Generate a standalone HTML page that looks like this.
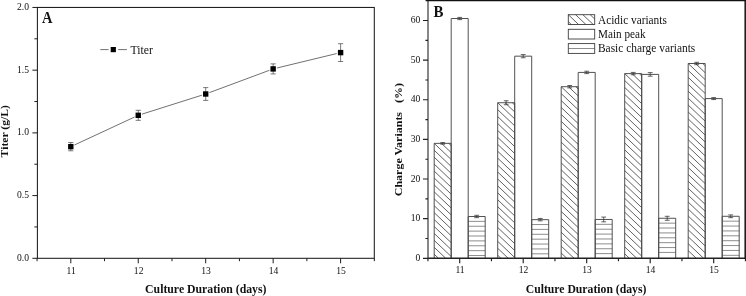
<!DOCTYPE html>
<html><head><meta charset="utf-8"><title>Figure</title>
<style>html,body{margin:0;padding:0;background:#fff;}body{width:746px;height:296px;overflow:hidden;}svg{display:block;}text{font-family:"Liberation Serif","Times New Roman",serif;fill:#111;}</style>
</head><body>
<svg width="746" height="296" viewBox="0 0 746 296">
<rect width="746" height="296" fill="#fff"/>
<g id="panelA">
<rect x="37.4" y="7.45" width="336.9" height="250.85" fill="none" stroke="#1c1c1c" stroke-width="1.05"/>
<path d="M32.4 258.3H37.4M34.4 226.94H37.4M32.4 195.59H37.4M34.4 164.23H37.4M32.4 132.88H37.4M34.4 101.52H37.4M32.4 70.16H37.4M34.4 38.81H37.4M32.4 7.45H37.4M37.07 258.3V261.2M70.8 258.3V263.3M104.53 258.3V261.2M138.25 258.3V263.3M171.98 258.3V261.2M205.7 258.3V263.3M239.43 258.3V261.2M273.15 258.3V263.3M306.88 258.3V261.2M340.6 258.3V263.3M374.33 258.3V261.2" stroke="#1c1c1c" stroke-width="1" fill="none"/>
<text x="29" y="260.9" font-size="9.6" text-anchor="end">0.0</text>
<text x="29" y="198.19" font-size="9.6" text-anchor="end">0.5</text>
<text x="29" y="135.47" font-size="9.6" text-anchor="end">1.0</text>
<text x="29" y="72.76" font-size="9.6" text-anchor="end">1.5</text>
<text x="29" y="10.05" font-size="9.6" text-anchor="end">2.0</text>
<text x="71.2" y="273.6" font-size="9.6" text-anchor="middle">11</text>
<text x="138.65" y="273.6" font-size="9.6" text-anchor="middle">12</text>
<text x="206.1" y="273.6" font-size="9.6" text-anchor="middle">13</text>
<text x="273.55" y="273.6" font-size="9.6" text-anchor="middle">14</text>
<text x="341" y="273.6" font-size="9.6" text-anchor="middle">15</text>
<path d="M74.43 144.99L134.62 117M142.06 114.11L201.89 95.2M209.45 92.6L269.4 70.3M277.04 67.97L336.71 53.54" stroke="#333" stroke-width="0.7" fill="none"/>
<path d="M70.8 142.53V150.81M68.2 142.53h5.2M68.2 150.81h5.2M138.25 110.3V120.33M135.65 110.3h5.2M135.65 120.33h5.2M205.7 87.6V100.39M203.1 87.6h5.2M203.1 100.39h5.2M273.15 63.89V73.93M270.55 63.89h5.2M270.55 73.93h5.2M340.6 43.7V61.51M338 43.7h5.2M338 61.51h5.2" stroke="#444" stroke-width="0.7" fill="none"/>
<rect x="68.1" y="143.97" width="5.4" height="5.4" fill="#000"/>
<rect x="135.55" y="112.62" width="5.4" height="5.4" fill="#000"/>
<rect x="203" y="91.29" width="5.4" height="5.4" fill="#000"/>
<rect x="270.45" y="66.21" width="5.4" height="5.4" fill="#000"/>
<rect x="337.9" y="49.9" width="5.4" height="5.4" fill="#000"/>
<path d="M100.3 49.6H108.6M118.2 49.6H126.9" stroke="#333" stroke-width="0.7"/>
<rect x="110.7" y="47" width="5.2" height="5.2" fill="#000"/>
<text x="130.6" y="53.9" font-size="13.2" textLength="22.4" lengthAdjust="spacingAndGlyphs">Titer</text>
<text transform="translate(41.9 22.7) scale(0.89 1)" font-size="16.3" font-weight="bold" fill="#000">A</text>
<text transform="translate(8.1 157.4) rotate(-90) scale(1 0.94)" font-size="11.55" font-weight="bold" textLength="52.3" lengthAdjust="spacingAndGlyphs" fill="#000">Titer (g/L)</text>
<text x="145.1" y="293.2" font-size="12.6" font-weight="bold" textLength="121.4" lengthAdjust="spacingAndGlyphs" fill="#000">Culture Duration (days)</text>
</g>
<defs>
</defs>
<g id="panelB">
<path d="M448.79 143.36L451.2 145.65M441.49 143.36L451.2 152.58M434.2 143.36L451.2 159.51M434.2 150.29L451.2 166.44M434.2 157.22L451.2 173.37M434.2 164.15L451.2 180.3M434.2 171.08L451.2 187.23M434.2 178.01L451.2 194.16M434.2 184.94L451.2 201.09M434.2 191.87L451.2 208.02M434.2 198.8L451.2 214.95M434.2 205.73L451.2 221.88M434.2 212.66L451.2 228.81M434.2 219.59L451.2 235.74M434.2 226.52L451.2 242.67M434.2 233.45L451.2 249.6M434.2 240.38L451.2 256.53M434.2 247.31L445.76 258.3M434.2 254.24L438.47 258.3M512.29 102.74L514.7 105.03M504.99 102.74L514.7 111.96M497.7 102.74L514.7 118.89M497.7 109.67L514.7 125.82M497.7 116.6L514.7 132.75M497.7 123.53L514.7 139.68M497.7 130.46L514.7 146.61M497.7 137.39L514.7 153.54M497.7 144.32L514.7 160.47M497.7 151.25L514.7 167.4M497.7 158.18L514.7 174.33M497.7 165.11L514.7 181.26M497.7 172.04L514.7 188.19M497.7 178.97L514.7 195.12M497.7 185.9L514.7 202.05M497.7 192.83L514.7 208.98M497.7 199.76L514.7 215.91M497.7 206.69L514.7 222.84M497.7 213.62L514.7 229.77M497.7 220.55L514.7 236.7M497.7 227.48L514.7 243.63M497.7 234.41L514.7 250.56M497.7 241.34L514.7 257.49M497.7 248.27L508.26 258.3M497.7 255.2L500.96 258.3M575.79 86.69L578.2 88.98M568.49 86.69L578.2 95.91M561.2 86.69L578.2 102.84M561.2 93.62L578.2 109.77M561.2 100.55L578.2 116.7M561.2 107.48L578.2 123.63M561.2 114.41L578.2 130.56M561.2 121.34L578.2 137.49M561.2 128.27L578.2 144.42M561.2 135.2L578.2 151.35M561.2 142.13L578.2 158.28M561.2 149.06L578.2 165.21M561.2 155.99L578.2 172.14M561.2 162.92L578.2 179.07M561.2 169.85L578.2 186M561.2 176.78L578.2 192.93M561.2 183.71L578.2 199.86M561.2 190.64L578.2 206.79M561.2 197.57L578.2 213.72M561.2 204.5L578.2 220.65M561.2 211.43L578.2 227.58M561.2 218.36L578.2 234.51M561.2 225.29L578.2 241.44M561.2 232.22L578.2 248.37M561.2 239.15L578.2 255.3M561.2 246.08L574.07 258.3M561.2 253.01L566.77 258.3M639.29 73.61L641.7 75.9M631.99 73.61L641.7 82.83M624.7 73.61L641.7 89.76M624.7 80.54L641.7 96.69M624.7 87.47L641.7 103.62M624.7 94.4L641.7 110.55M624.7 101.33L641.7 117.48M624.7 108.26L641.7 124.41M624.7 115.19L641.7 131.34M624.7 122.12L641.7 138.27M624.7 129.05L641.7 145.2M624.7 135.98L641.7 152.13M624.7 142.91L641.7 159.06M624.7 149.84L641.7 165.99M624.7 156.77L641.7 172.92M624.7 163.7L641.7 179.85M624.7 170.63L641.7 186.78M624.7 177.56L641.7 193.71M624.7 184.49L641.7 200.64M624.7 191.42L641.7 207.57M624.7 198.35L641.7 214.5M624.7 205.28L641.7 221.43M624.7 212.21L641.7 228.36M624.7 219.14L641.7 235.29M624.7 226.07L641.7 242.22M624.7 233L641.7 249.15M624.7 239.93L641.7 256.08M624.7 246.86L636.74 258.3M624.7 253.79L629.45 258.3M702.79 63.5L705.2 65.79M695.49 63.5L705.2 72.72M688.2 63.5L705.2 79.65M688.2 70.43L705.2 86.58M688.2 77.36L705.2 93.51M688.2 84.29L705.2 100.44M688.2 91.22L705.2 107.37M688.2 98.15L705.2 114.3M688.2 105.08L705.2 121.23M688.2 112.01L705.2 128.16M688.2 118.94L705.2 135.09M688.2 125.87L705.2 142.02M688.2 132.8L705.2 148.95M688.2 139.73L705.2 155.88M688.2 146.66L705.2 162.81M688.2 153.59L705.2 169.74M688.2 160.52L705.2 176.67M688.2 167.45L705.2 183.6M688.2 174.38L705.2 190.53M688.2 181.31L705.2 197.46M688.2 188.24L705.2 204.39M688.2 195.17L705.2 211.32M688.2 202.1L705.2 218.25M688.2 209.03L705.2 225.18M688.2 215.96L705.2 232.11M688.2 222.89L705.2 239.04M688.2 229.82L705.2 245.97M688.2 236.75L705.2 252.9M688.2 243.68L703.59 258.3M688.2 250.61L696.29 258.3M688.2 257.54L689 258.3" stroke="#2e2e2e" stroke-width="0.75" fill="none"/>
<path d="M468.2 221.37H485.2M468.2 226.25H485.2M468.2 231.13H485.2M468.2 236.01H485.2M468.2 240.89H485.2M468.2 245.77H485.2M468.2 250.65H485.2M468.2 255.53H485.2M531.7 224.54H548.7M531.7 229.42H548.7M531.7 234.3H548.7M531.7 239.18H548.7M531.7 244.06H548.7M531.7 248.94H548.7M531.7 253.82H548.7M595.2 224.34H612.2M595.2 229.22H612.2M595.2 234.1H612.2M595.2 238.98H612.2M595.2 243.86H612.2M595.2 248.74H612.2M595.2 253.62H612.2M658.7 223.15H675.7M658.7 228.03H675.7M658.7 232.91H675.7M658.7 237.79H675.7M658.7 242.67H675.7M658.7 247.55H675.7M658.7 252.43H675.7M722.2 221.17H739.2M722.2 226.05H739.2M722.2 230.93H739.2M722.2 235.81H739.2M722.2 240.69H739.2M722.2 245.57H739.2M722.2 250.45H739.2M722.2 255.33H739.2" stroke="#686868" stroke-width="0.75" fill="none"/>
<path d="M434.2 258.3V143.36H451.2V258.3M451.2 258.3V18.52H468.2V258.3M468.2 258.3V216.49H485.2V258.3M497.7 258.3V102.74H514.7V258.3M514.7 258.3V56.17H531.7V258.3M531.7 258.3V219.66H548.7V258.3M561.2 258.3V86.69H578.2V258.3M578.2 258.3V72.42H595.2V258.3M595.2 258.3V219.46H612.2V258.3M624.7 258.3V73.61H641.7V258.3M641.7 258.3V74.4H658.7V258.3M658.7 258.3V218.27H675.7V258.3M688.2 258.3V63.5H705.2V258.3M705.2 258.3V98.58H722.2V258.3M722.2 258.3V216.29H739.2V258.3" stroke="#484848" stroke-width="0.95" fill="none"/>
<path d="M442.7 142.57V144.16M440.3 142.57h4.8M440.3 144.16h4.8M459.7 17.41V19.63M457.3 17.41h4.8M457.3 19.63h4.8M476.7 215.3V217.68M474.3 215.3h4.8M474.3 217.68h4.8M506.2 100.76V104.72M503.8 100.76h4.8M503.8 104.72h4.8M523.2 54.58V57.76M520.8 54.58h4.8M520.8 57.76h4.8M540.2 218.47V220.85M537.8 218.47h4.8M537.8 220.85h4.8M569.7 85.5V87.88M567.3 85.5h4.8M567.3 87.88h4.8M586.7 71.23V73.61M584.3 71.23h4.8M584.3 73.61h4.8M603.7 217.08V221.84M601.3 217.08h4.8M601.3 221.84h4.8M633.2 72.42V74.8M630.8 72.42h4.8M630.8 74.8h4.8M650.2 72.62V76.18M647.8 72.62h4.8M647.8 76.18h4.8M667.2 216.29V220.25M664.8 216.29h4.8M664.8 220.25h4.8M696.7 62.31V64.69M694.3 62.31h4.8M694.3 64.69h4.8M713.7 97.59V99.57M711.3 97.59h4.8M711.3 99.57h4.8M730.7 214.9V217.68M728.3 214.9h4.8M728.3 217.68h4.8" stroke="#3a3a3a" stroke-width="0.8" fill="none"/>
<path d="M428 0.68V258.3" stroke="#555" stroke-width="1.4" fill="none"/>
<path d="M428 258.3H745.2" stroke="#222" stroke-width="1.4" fill="none"/>
<path d="M425.6 0.68H746" stroke="#111" stroke-width="1.2" fill="none"/>
<path d="M745.2 0.68V258.9" stroke="#111" stroke-width="1.5" fill="none"/>
<path d="M423 258.3H428M425.4 238.48H428M423 218.67H428M425.4 198.85H428M423 179.03H428M425.4 159.22H428M423 139.4H428M425.4 119.58H428M423 99.77H428M425.4 79.95H428M423 60.13H428M425.4 40.32H428M423 20.5H428M427.95 258.3V261.2M459.7 258.3V263.3M491.45 258.3V261.2M523.2 258.3V263.3M554.95 258.3V261.2M586.7 258.3V263.3M618.45 258.3V261.2M650.2 258.3V263.3M681.95 258.3V261.2M713.7 258.3V263.3M745.45 258.3V261.2" stroke="#222" stroke-width="1.15" fill="none"/>
<text x="420.3" y="260.85" font-size="9.6" text-anchor="end">0</text>
<text x="420.3" y="221.22" font-size="9.6" text-anchor="end">10</text>
<text x="420.3" y="181.58" font-size="9.6" text-anchor="end">20</text>
<text x="420.3" y="141.95" font-size="9.6" text-anchor="end">30</text>
<text x="420.3" y="102.32" font-size="9.6" text-anchor="end">40</text>
<text x="420.3" y="62.68" font-size="9.6" text-anchor="end">50</text>
<text x="420.3" y="23.05" font-size="9.6" text-anchor="end">60</text>
<text x="460" y="273.3" font-size="9.6" text-anchor="middle">11</text>
<text x="523.5" y="273.3" font-size="9.6" text-anchor="middle">12</text>
<text x="587" y="273.3" font-size="9.6" text-anchor="middle">13</text>
<text x="650.5" y="273.3" font-size="9.6" text-anchor="middle">14</text>
<text x="714" y="273.3" font-size="9.6" text-anchor="middle">15</text>
<path d="M590.18 14.7L594.7 18.99M582.89 14.7L593.21 24.5M575.59 14.7L585.91 24.5M568.3 14.7L578.62 24.5M568.3 21.63L571.32 24.5" stroke="#2e2e2e" stroke-width="0.75" fill="none"/>
<rect x="568.3" y="14.7" width="26.4" height="9.8" fill="none" stroke="#3c3c3c" stroke-width="0.9"/>
<rect x="568.3" y="29.3" width="26.4" height="9.7" fill="none" stroke="#3c3c3c" stroke-width="0.9"/>
<path d="M568.3 48.5H594.7" stroke="#808080" stroke-width="0.9" fill="none"/>
<rect x="568.3" y="43.6" width="26.4" height="9.8" fill="none" stroke="#3c3c3c" stroke-width="0.9"/>
<text x="598" y="23.6" font-size="12.5" textLength="68.8" lengthAdjust="spacingAndGlyphs">Acidic variants</text>
<text x="598" y="37.8" font-size="12.5" textLength="47.5" lengthAdjust="spacingAndGlyphs">Main peak</text>
<text x="598" y="52.2" font-size="12.5" textLength="97.3" lengthAdjust="spacingAndGlyphs">Basic charge variants</text>
<text transform="translate(433.4 17) scale(0.92 1)" font-size="16.2" font-weight="bold" fill="#000">B</text>
<text transform="translate(402 196.2) rotate(-90) scale(1 0.93)" font-size="11.85" font-weight="bold" textLength="113.2" lengthAdjust="spacingAndGlyphs" fill="#000" xml:space="preserve">Charge Variants   (%)</text>
<text x="525.7" y="292.7" font-size="12.6" font-weight="bold" textLength="120.7" lengthAdjust="spacingAndGlyphs" fill="#000">Culture Duration (days)</text>
</g>
</svg></body></html>
